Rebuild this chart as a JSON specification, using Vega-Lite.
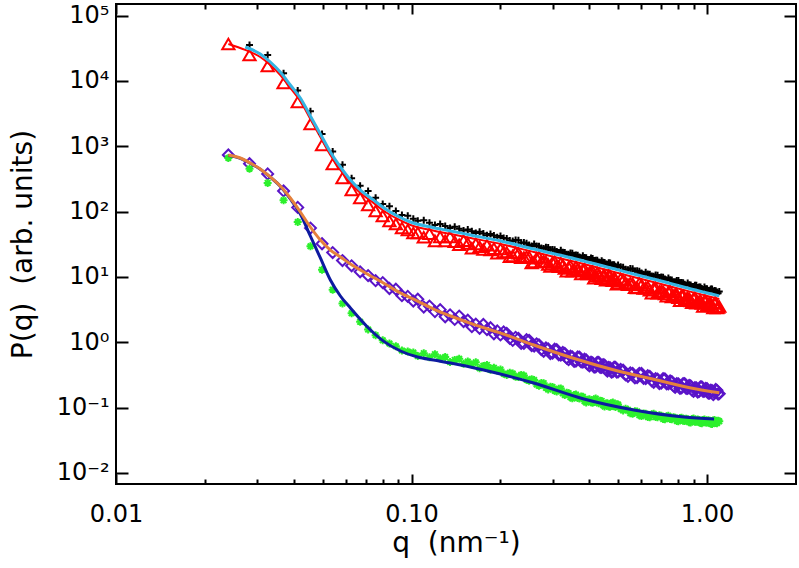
{
  "$schema": "https://vega.github.io/schema/vega-lite/v6.json",
  "width": 680,
  "height": 480,
  "autosize": {"type": "none"},
  "padding": {"left": 116, "top": 4, "right": 3, "bottom": 84},
  "background": "white",
  "config": {
    "view": {"stroke": "black", "strokeWidth": 2},
    "axis": {"domain": false, "grid": false, "tickColor": "black", "labelColor": "black", "titleColor": "black", "labelFont": "DejaVu Sans", "titleFont": "DejaVu Sans", "labelFontSize": 24, "titleFontSize": 28, "titleFontWeight": "normal", "labelFlush": false, "labelOverlap": false}
  },
  "datasets": {
    "pts": [
      {"q":0.024,"tri":36900,"plus":null,"dia":736,"ast":662},
      {"q":0.0283,"tri":25000,"plus":35600,"dia":541,"ast":454},
      {"q":0.0326,"tri":16970,"plus":25100,"dia":378,"ast":275},
      {"q":0.0369,"tri":9320,"plus":13120,"dia":207,"ast":149},
      {"q":0.0412,"tri":4770,"plus":7130,"dia":116,"ast":69.1},
      {"q":0.0455,"tri":2195,"plus":3447,"dia":55.9,"ast":29.5},
      {"q":0.0498,"tri":1047,"plus":1538,"dia":32.2,"ast":12.9},
      {"q":0.0541,"tri":536,"plus":832,"dia":23.6,"ast":6.37},
      {"q":0.0584,"tri":327,"plus":523,"dia":17.8,"ast":3.91},
      {"q":0.0627,"tri":214,"plus":325,"dia":14.8,"ast":2.77},
      {"q":0.067,"tri":161.6,"plus":249,"dia":11.97,"ast":2.05},
      {"q":0.0713,"tri":126.2,"plus":207.5,"dia":10.5,"ast":1.56},
      {"q":0.0756,"tri":102.1,"plus":163.3,"dia":8.74,"ast":1.28},
      {"q":0.0799,"tri":85.6,"plus":131.2,"dia":8.18,"ast":1.069},
      {"q":0.0842,"tri":71.8,"plus":120.6,"dia":6.64,"ast":0.955},
      {"q":0.0885,"tri":64.6,"plus":102.1,"dia":6.48,"ast":0.868},
      {"q":0.0928,"tri":56.1,"plus":88.7,"dia":5.15,"ast":0.746},
      {"q":0.0971,"tri":52.3,"plus":86.5,"dia":5.03,"ast":0.72},
      {"q":0.1014,"tri":47.0,"plus":77.8,"dia":4.27,"ast":0.695},
      {"q":0.105,"tri":47.3,"plus":72.3,"dia":4.55,"ast":0.613},
      {"q":0.11,"tri":40.4,"plus":73.6,"dia":3.45,"ast":0.679},
      {"q":0.115,"tri":45.9,"plus":67.6,"dia":3.58,"ast":0.589},
      {"q":0.12,"tri":35.6,"plus":62.6,"dia":2.94,"ast":0.655},
      {"q":0.125,"tri":41.0,"plus":64.8,"dia":3.15,"ast":0.569},
      {"q":0.13,"tri":35.6,"plus":60.4,"dia":2.45,"ast":0.593},
      {"q":0.135,"tri":41.0,"plus":56.3,"dia":2.63,"ast":0.499},
      {"q":0.14,"tri":34.5,"plus":58.5,"dia":2.23,"ast":0.536},
      {"q":0.145,"tri":31.1,"plus":54.7,"dia":2.51,"ast":0.557},
      {"q":0.15,"tri":36.0,"plus":51.2,"dia":2.07,"ast":0.469},
      {"q":0.155,"tri":32.6,"plus":53.4,"dia":2.17,"ast":0.505},
      {"q":0.16,"tri":27.5,"plus":50.1,"dia":1.73,"ast":0.455},
      {"q":0.165,"tri":31.9,"plus":47.0,"dia":1.89,"ast":0.492},
      {"q":0.17,"tri":28.9,"plus":49.1,"dia":1.63,"ast":0.4},
      {"q":0.175,"tri":26.3,"plus":46.2,"dia":1.87,"ast":0.434},
      {"q":0.18,"tri":30.5,"plus":43.4,"dia":1.56,"ast":0.449},
      {"q":0.185,"tri":25.8,"plus":45.4,"dia":1.67,"ast":0.378},
      {"q":0.19,"tri":27.1,"plus":42.9,"dia":1.345,"ast":0.407},
      {"q":0.195,"tri":23.0,"plus":40.4,"dia":1.49,"ast":0.369},
      {"q":0.2,"tri":26.8,"plus":42.3,"dia":1.29,"ast":0.383},
      {"q":0.21,"tri":23.6,"plus":38.7,"dia":1.37,"ast":0.315},
      {"q":0.22,"tri":21.0,"plus":35.6,"dia":1.066,"ast":0.332},
      {"q":0.23,"tri":23.0,"plus":36.4,"dia":1.143,"ast":0.293},
      {"q":0.24,"tri":19.8,"plus":33.5,"dia":0.959,"ast":0.309},
      {"q":0.25,"tri":20.2,"plus":30.9,"dia":1.069,"ast":0.256},
      {"q":0.26,"tri":16.9,"plus":31.8,"dia":0.872,"ast":0.263},
      {"q":0.27,"tri":20.0,"plus":29.4,"dia":0.912,"ast":0.216},
      {"q":0.28,"tri":17.3,"plus":27.3,"dia":0.726,"ast":0.236},
      {"q":0.29,"tri":15.5,"plus":28.3,"dia":0.792,"ast":0.188},
      {"q":0.3,"tri":16.6,"plus":26.3,"dia":0.679,"ast":0.206},
      {"q":0.31,"tri":14.9,"plus":24.5,"dia":0.768,"ast":0.176},
      {"q":0.32,"tri":16.1,"plus":25.5,"dia":0.637,"ast":0.195},
      {"q":0.33,"tri":13.5,"plus":23.7,"dia":0.676,"ast":0.156},
      {"q":0.34,"tri":14.0,"plus":22.2,"dia":0.541,"ast":0.166},
      {"q":0.35,"tri":12.2,"plus":23.1,"dia":0.598,"ast":0.138},
      {"q":0.36,"tri":14.2,"plus":21.6,"dia":0.515,"ast":0.158},
      {"q":0.37,"tri":12.4,"plus":20.2,"dia":0.593,"ast":0.137},
      {"q":0.38,"tri":12.8,"plus":21.0,"dia":0.497,"ast":0.146},
      {"q":0.39,"tri":11.2,"plus":19.7,"dia":0.534,"ast":0.119},
      {"q":0.4,"tri":11.6,"plus":18.4,"dia":0.434,"ast":0.134},
      {"q":0.41,"tri":12.1,"plus":19.2,"dia":0.484,"ast":0.118},
      {"q":0.42,"tri":10.25,"plus":18.0,"dia":0.421,"ast":0.137},
      {"q":0.43,"tri":10.7,"plus":16.9,"dia":0.489,"ast":0.116},
      {"q":0.44,"tri":9.35,"plus":17.6,"dia":0.411,"ast":0.126},
      {"q":0.45,"tri":10.5,"plus":16.6,"dia":0.444,"ast":0.1036},
      {"q":0.46,"tri":9.55,"plus":15.6,"dia":0.362,"ast":0.1163},
      {"q":0.47,"tri":10.3,"plus":16.3,"dia":0.405,"ast":0.1025},
      {"q":0.48,"tri":8.74,"plus":15.4,"dia":0.355,"ast":0.1197},
      {"q":0.49,"tri":9.16,"plus":14.5,"dia":0.413,"ast":0.1021},
      {"q":0.5,"tri":8.07,"plus":15.2,"dia":0.35,"ast":0.1111},
      {"q":0.52,"tri":8.87,"plus":14.0,"dia":0.373,"ast":0.0897},
      {"q":0.54,"tri":7.62,"plus":12.9,"dia":0.3,"ast":0.0925},
      {"q":0.56,"tri":7.84,"plus":13.3,"dia":0.333,"ast":0.0804},
      {"q":0.58,"tri":6.78,"plus":12.4,"dia":0.288,"ast":0.0872},
      {"q":0.6,"tri":7.52,"plus":11.5,"dia":0.332,"ast":0.0738},
      {"q":0.62,"tri":6.74,"plus":11.8,"dia":0.278,"ast":0.0804},
      {"q":0.64,"tri":6.26,"plus":11.0,"dia":0.3,"ast":0.0708},
      {"q":0.66,"tri":6.71,"plus":10.25,"dia":0.243,"ast":0.0801},
      {"q":0.68,"tri":5.63,"plus":10.6,"dia":0.271,"ast":0.0708},
      {"q":0.7,"tri":6.06,"plus":9.93,"dia":0.236,"ast":0.0746},
      {"q":0.72,"tri":5.47,"plus":9.29,"dia":0.274,"ast":0.066},
      {"q":0.74,"tri":5.87,"plus":9.62,"dia":0.231,"ast":0.0746},
      {"q":0.76,"tri":4.94,"plus":9.0,"dia":0.25,"ast":0.066},
      {"q":0.78,"tri":5.32,"plus":8.41,"dia":0.204,"ast":0.0696},
      {"q":0.8,"tri":4.82,"plus":8.78,"dia":0.229,"ast":0.0617},
      {"q":0.82,"tri":5.19,"plus":8.21,"dia":0.2,"ast":0.0698},
      {"q":0.84,"tri":4.38,"plus":7.7,"dia":0.233,"ast":0.0621},
      {"q":0.86,"tri":4.73,"plus":8.04,"dia":0.197,"ast":0.0662},
      {"q":0.88,"tri":4.29,"plus":7.54,"dia":0.214,"ast":0.0591},
      {"q":0.9,"tri":4.65,"plus":7.1,"dia":0.176,"ast":0.0676},
      {"q":0.92,"tri":3.96,"plus":7.46,"dia":0.2,"ast":0.0604},
      {"q":0.94,"tri":4.14,"plus":7.03,"dia":0.176,"ast":0.0644},
      {"q":0.96,"tri":3.91,"plus":6.64,"dia":0.207,"ast":0.0575},
      {"q":0.98,"tri":4.26,"plus":6.98,"dia":0.178,"ast":0.0657},
      {"q":1.0,"tri":3.62,"plus":6.6,"dia":0.194,"ast":0.0589},
      {"q":1.02,"tri":3.94,"plus":6.23,"dia":0.166,"ast":0.0628},
      {"q":1.04,"tri":3.6,"plus":6.55,"dia":0.182,"ast":0.0561},
      {"q":1.06,"tri":3.93,"plus":6.21,"dia":0.167,"ast":0.0644},
      {"q":1.08,"tri":3.34,"plus":5.87,"dia":0.183,"ast":0.0575},
      {"q":1.1,"tri":3.52,"plus":5.97,"dia":0.163,"ast":0.0615},
      {"q":0.205,"tri":24.2,"plus":39.4,"dia":1.435,"ast":0.33},
      {"q":0.215,"tri":20.3,"plus":36.1,"dia":1.144,"ast":0.34},
      {"q":0.225,"tri":23.7,"plus":36.8,"dia":1.188,"ast":0.296},
      {"q":0.235,"tri":19.7,"plus":33.4,"dia":0.957,"ast":0.316},
      {"q":0.245,"tri":20.4,"plus":32.9,"dia":1.093,"ast":0.267},
      {"q":0.255,"tri":16.3,"plus":29.6,"dia":0.884,"ast":0.272},
      {"q":0.265,"tri":19.3,"plus":29.8,"dia":0.946,"ast":0.226},
      {"q":0.275,"tri":17.1,"plus":27.6,"dia":0.771,"ast":0.237},
      {"q":0.285,"tri":16.9,"plus":28.4,"dia":0.816,"ast":0.2},
      {"q":0.295,"tri":14.4,"plus":26.0,"dia":0.671,"ast":0.207},
      {"q":0.305,"tri":17.0,"plus":26.0,"dia":0.78,"ast":0.181},
      {"q":0.315,"tri":14.3,"plus":23.7,"dia":0.641,"ast":0.194},
      {"q":0.325,"tri":15.1,"plus":23.9,"dia":0.696,"ast":0.165},
      {"q":0.335,"tri":12.2,"plus":22.3,"dia":0.573,"ast":0.169},
      {"q":0.345,"tri":14.6,"plus":23.2,"dia":0.613,"ast":0.144},
      {"q":0.355,"tri":13.0,"plus":21.4,"dia":0.508,"ast":0.155},
      {"q":0.365,"tri":13.0,"plus":21.5,"dia":0.597,"ast":0.14},
      {"q":0.375,"tri":11.1,"plus":19.5,"dia":0.498,"ast":0.148},
      {"q":0.385,"tri":13.2,"plus":19.8,"dia":0.548,"ast":0.125},
      {"q":0.395,"tri":11.1,"plus":18.5,"dia":0.456,"ast":0.132},
      {"q":0.405,"tri":11.8,"plus":19.4,"dia":0.493,"ast":0.12},
      {"q":0.415,"tri":9.54,"plus":17.8,"dia":0.414,"ast":0.133},
      {"q":0.425,"tri":11.5,"plus":18.0,"dia":0.491,"ast":0.12},
      {"q":0.435,"tri":10.2,"plus":16.4,"dia":0.411,"ast":0.127},
      {"q":0.445,"tri":10.3,"plus":16.8,"dia":0.454,"ast":0.1086},
      {"q":0.455,"tri":8.87,"plus":15.7,"dia":0.379,"ast":0.1153},
      {"q":0.465,"tri":10.6,"plus":16.4,"dia":0.413,"ast":0.1037},
      {"q":0.475,"tri":8.98,"plus":15.2,"dia":0.347,"ast":0.1163},
      {"q":0.485,"tri":9.5,"plus":15.3,"dia":0.414,"ast":0.105},
      {"q":0.495,"tri":7.74,"plus":14.1,"dia":0.347,"ast":0.1118},
      {"q":0.51,"tri":9.25,"plus":14.3,"dia":0.382,"ast":0.0948},
      {"q":0.53,"tri":8.09,"plus":13.1,"dia":0.316,"ast":0.0957},
      {"q":0.55,"tri":7.98,"plus":13.5,"dia":0.34,"ast":0.0819},
      {"q":0.57,"tri":6.82,"plus":12.3,"dia":0.284,"ast":0.0879},
      {"q":0.59,"tri":7.98,"plus":12.2,"dia":0.334,"ast":0.0763},
      {"q":0.61,"tri":6.67,"plus":11.0,"dia":0.279,"ast":0.0809},
      {"q":0.63,"tri":7.02,"plus":11.1,"dia":0.307,"ast":0.0716},
      {"q":0.65,"tri":5.65,"plus":10.35,"dia":0.256,"ast":0.0791},
      {"q":0.67,"tri":6.72,"plus":10.7,"dia":0.277,"ast":0.0715},
      {"q":0.69,"tri":5.96,"plus":9.82,"dia":0.232,"ast":0.0763},
      {"q":0.71,"tri":5.94,"plus":9.84,"dia":0.276,"ast":0.0667},
      {"q":0.73,"tri":5.08,"plus":8.94,"dia":0.231,"ast":0.0737},
      {"q":0.75,"tri":6.03,"plus":9.05,"dia":0.255,"ast":0.0667},
      {"q":0.77,"tri":5.08,"plus":8.46,"dia":0.214,"ast":0.0712},
      {"q":0.79,"tri":5.37,"plus":8.8,"dia":0.233,"ast":0.0622},
      {"q":0.81,"tri":4.34,"plus":8.11,"dia":0.196,"ast":0.0689},
      {"q":0.83,"tri":5.2,"plus":8.15,"dia":0.233,"ast":0.0625},
      {"q":0.85,"tri":4.64,"plus":7.44,"dia":0.197,"ast":0.0673},
      {"q":0.87,"tri":4.66,"plus":7.58,"dia":0.218,"ast":0.0594},
      {"q":0.89,"tri":4.01,"plus":7.12,"dia":0.184,"ast":0.0664},
      {"q":0.91,"tri":4.8,"plus":7.45,"dia":0.202,"ast":0.0607},
      {"q":0.93,"tri":4.07,"plus":6.9,"dia":0.172,"ast":0.0655},
      {"q":0.95,"tri":4.33,"plus":6.98,"dia":0.207,"ast":0.0578},
      {"q":0.97,"tri":3.53,"plus":6.41,"dia":0.176,"ast":0.0646},
      {"q":0.99,"tri":4.26,"plus":6.56,"dia":0.197,"ast":0.0591},
      {"q":1.01,"tri":3.83,"plus":6.19,"dia":0.166,"ast":0.0638},
      {"q":1.03,"tri":3.86,"plus":6.5,"dia":0.184,"ast":0.0564},
      {"q":1.05,"tri":3.34,"plus":6.04,"dia":0.157,"ast":0.0631},
      {"q":1.07,"tri":4.01,"plus":6.12,"dia":0.189,"ast":0.0579},
      {"q":1.09,"tri":3.41,"plus":5.64,"dia":0.161,"ast":0.0625}
    ],
    "fit_red": [
      {"q":0.024,"P":36900},{"q":0.02737,"P":29900},{"q":0.03077,"P":23300},{"q":0.03327,"P":17600},{"q":0.03597,"P":12360},{"q":0.03889,"P":7820},{"q":0.04205,"P":4940},{"q":0.04546,"P":2620},{"q":0.04915,"P":1390},{"q":0.05314,"P":736},{"q":0.05745,"P":434},{"q":0.06212,"P":274},{"q":0.06716,"P":193},{"q":0.07433,"P":136},{"q":0.08164,"P":98.6},{"q":0.08964,"P":77.1},{"q":0.09922,"P":62.4},{"q":0.116,"P":52.3},{"q":0.1356,"P":45.4},{"q":0.1585,"P":39.4},{"q":0.2003,"P":32.0},{"q":0.2592,"P":24.0},{"q":0.3597,"P":16.9},{"q":0.4993,"P":11.5},{"q":0.6984,"P":7.8},{"q":0.8827,"P":5.9},{"q":1.1,"P":4.6}
    ],
    "fit_cyan": [
      {"q":0.02737,"P":33190},{"q":0.03077,"P":25920},{"q":0.03327,"P":19540},{"q":0.03597,"P":13730},{"q":0.03889,"P":8686},{"q":0.04205,"P":5492},{"q":0.04546,"P":2911},{"q":0.04915,"P":1543},{"q":0.05314,"P":818},{"q":0.05745,"P":482},{"q":0.06212,"P":305},{"q":0.06716,"P":214},{"q":0.07433,"P":151},{"q":0.08164,"P":110},{"q":0.08964,"P":85.7},{"q":0.09922,"P":69.3},{"q":0.116,"P":58.1},{"q":0.1356,"P":50.5},{"q":0.1585,"P":43.8},{"q":0.2003,"P":35.5},{"q":0.2592,"P":26.7},{"q":0.3597,"P":18.8},{"q":0.4993,"P":12.8},{"q":0.6984,"P":8.65},{"q":0.8827,"P":6.53},{"q":1.1,"P":5.12}
    ],
    "fit_orange": [
      {"q":0.024,"P":736},{"q":0.02633,"P":662},{"q":0.02846,"P":555},{"q":0.03077,"P":449},{"q":0.03327,"P":339},{"q":0.03597,"P":247},{"q":0.03889,"P":161.6},{"q":0.04205,"P":98.6},{"q":0.04546,"P":58.1},{"q":0.04915,"P":36.7},{"q":0.05314,"P":25.8},{"q":0.05745,"P":20.2},{"q":0.06212,"P":15.8},{"q":0.06983,"P":11.5},{"q":0.08036,"P":8.07},{"q":0.09177,"P":5.66},{"q":0.1048,"P":4.27},{"q":0.1187,"P":3.22},{"q":0.1356,"P":2.52},{"q":0.1648,"P":1.83},{"q":0.2003,"P":1.38},{"q":0.2592,"P":0.906},{"q":0.3597,"P":0.553},{"q":0.4993,"P":0.362},{"q":0.6984,"P":0.255},{"q":0.8827,"P":0.199},{"q":1.1,"P":0.168}
    ],
    "fit_blue": [
      {"q":0.024,"P":720},{"q":0.02633,"P":655},{"q":0.02846,"P":550},{"q":0.03077,"P":445},{"q":0.03327,"P":336},{"q":0.03597,"P":245},{"q":0.03889,"P":156},{"q":0.04205,"P":91.9},{"q":0.04546,"P":42.3},{"q":0.04915,"P":19.5},{"q":0.05314,"P":8.97},{"q":0.05745,"P":5.1},{"q":0.06212,"P":3.34},{"q":0.07093,"P":1.71},{"q":0.08036,"P":1.04},{"q":0.09177,"P":0.733},{"q":0.1048,"P":0.593},{"q":0.1187,"P":0.533},{"q":0.1356,"P":0.48},{"q":0.1754,"P":0.375},{"q":0.2592,"P":0.237},{"q":0.383,"P":0.135},{"q":0.5656,"P":0.0916},{"q":0.8356,"P":0.0716},{"q":1.0561,"P":0.0667}
    ]
  },
  "resolve": {"axis": {"x": "independent", "y": "independent"}},
  "layer": [
    {
      "data": {"name": "fit_red"},
      "mark": {"type": "line", "color": "#FF0000", "strokeWidth": 2, "interpolate": "monotone"},
      "encoding": {
        "x": {"field": "q", "type": "quantitative", "scale": {"type": "log", "domain": [0.01, 2], "nice": false},
          "axis": {"orient": "bottom", "values": [0.01, 0.1, 1], "format": ".2f", "tickSize": -10, "tickWidth": 2, "labelPadding": 28, "title": "q\u00a0\u00a0(nm⁻¹)", "titlePadding": 3}},
        "y": {"field": "P", "type": "quantitative", "scale": {"type": "log", "domain": [0.00674, 151000], "nice": false},
          "axis": {"orient": "left", "values": [0.01, 0.1, 1, 10, 100, 1000, 10000, 100000], "tickSize": -12, "tickWidth": 2, "labelPadding": 19,
            "labelExpr": "datum.value > 50000 ? '10⁵' : datum.value > 5000 ? '10⁴' : datum.value > 500 ? '10³' : datum.value > 50 ? '10²' : datum.value > 5 ? '10¹' : datum.value > 0.5 ? '10⁰' : datum.value > 0.05 ? '10⁻¹' : '10⁻²'",
            "title": "P(q)\u00a0\u00a0(arb.\u00a0units)", "titlePadding": 19}}
      }
    },
    {
      "data": {"name": "pts"},
      "mark": {"type": "point", "shape": "triangle-up", "filled": false, "color": "#FF0000", "strokeWidth": 2, "size": 150, "opacity": 1},
      "encoding": {
        "x": {"field": "q", "type": "quantitative", "scale": {"type": "log", "domain": [0.01, 2], "nice": false},
          "axis": {"orient": "bottom", "values": [0.02, 0.03, 0.04, 0.05, 0.06, 0.07, 0.08, 0.09, 0.2, 0.3, 0.4, 0.5, 0.6, 0.7, 0.8, 0.9], "tickSize": -5, "tickWidth": 2, "labels": false, "title": null}},
        "y": {"field": "tri", "type": "quantitative", "scale": {"type": "log", "domain": [0.00674, 151000], "nice": false},
          "axis": {"orient": "right", "values": [0.01, 0.1, 1, 10, 100, 1000, 10000, 100000], "tickSize": -12, "tickWidth": 2, "labels": false, "title": null}}
      }
    },
    {
      "data": {"name": "pts"},
      "mark": {"type": "point", "shape": "M-1,0L1,0M0,-1L0,1", "filled": false, "color": "black", "strokeWidth": 2, "size": 49, "opacity": 1},
      "encoding": {
        "x": {"field": "q", "type": "quantitative", "scale": {"type": "log", "domain": [0.01, 2], "nice": false},
          "axis": {"orient": "top", "values": [0.01, 0.1, 1], "tickSize": -10, "tickWidth": 2, "labels": false, "title": null}},
        "y": {"field": "plus", "type": "quantitative", "scale": {"type": "log", "domain": [0.00674, 151000], "nice": false}, "axis": null}
      }
    },
    {
      "data": {"name": "fit_cyan"},
      "mark": {"type": "line", "color": "#35B4E2", "strokeWidth": 3, "interpolate": "monotone"},
      "encoding": {
        "x": {"field": "q", "type": "quantitative", "scale": {"type": "log", "domain": [0.01, 2], "nice": false},
          "axis": {"orient": "top", "values": [0.02, 0.03, 0.04, 0.05, 0.06, 0.07, 0.08, 0.09, 0.2, 0.3, 0.4, 0.5, 0.6, 0.7, 0.8, 0.9], "tickSize": -5, "tickWidth": 2, "labels": false, "title": null}},
        "y": {"field": "P", "type": "quantitative", "scale": {"type": "log", "domain": [0.00674, 151000], "nice": false}, "axis": null}
      }
    },
    {
      "data": {"name": "pts"},
      "mark": {"type": "point", "shape": "diamond", "filled": false, "color": "#5A14C8", "strokeWidth": 2, "size": 120, "opacity": 1},
      "encoding": {
        "x": {"field": "q", "type": "quantitative", "scale": {"type": "log", "domain": [0.01, 2], "nice": false}, "axis": null},
        "y": {"field": "dia", "type": "quantitative", "scale": {"type": "log", "domain": [0.00674, 151000], "nice": false}, "axis": null}
      }
    },
    {
      "data": {"name": "pts"},
      "mark": {"type": "point", "shape": "M-1,0L1,0M0,-1L0,1M-0.7,-0.7L0.7,0.7M-0.7,0.7L0.7,-0.7", "filled": false, "color": "#2CF02C", "strokeWidth": 2, "size": 64, "opacity": 1},
      "encoding": {
        "x": {"field": "q", "type": "quantitative", "scale": {"type": "log", "domain": [0.01, 2], "nice": false}, "axis": null},
        "y": {"field": "ast", "type": "quantitative", "scale": {"type": "log", "domain": [0.00674, 151000], "nice": false}, "axis": null}
      }
    },
    {
      "data": {"name": "fit_blue"},
      "mark": {"type": "line", "color": "#0D1AA0", "strokeWidth": 3, "interpolate": "monotone"},
      "encoding": {
        "x": {"field": "q", "type": "quantitative", "scale": {"type": "log", "domain": [0.01, 2], "nice": false}, "axis": null},
        "y": {"field": "P", "type": "quantitative", "scale": {"type": "log", "domain": [0.00674, 151000], "nice": false}, "axis": null}
      }
    },
    {
      "data": {"name": "fit_orange"},
      "mark": {"type": "line", "color": "#E5813C", "strokeWidth": 3, "interpolate": "monotone"},
      "encoding": {
        "x": {"field": "q", "type": "quantitative", "scale": {"type": "log", "domain": [0.01, 2], "nice": false}, "axis": null},
        "y": {"field": "P", "type": "quantitative", "scale": {"type": "log", "domain": [0.00674, 151000], "nice": false}, "axis": null}
      }
    }
  ]
}
